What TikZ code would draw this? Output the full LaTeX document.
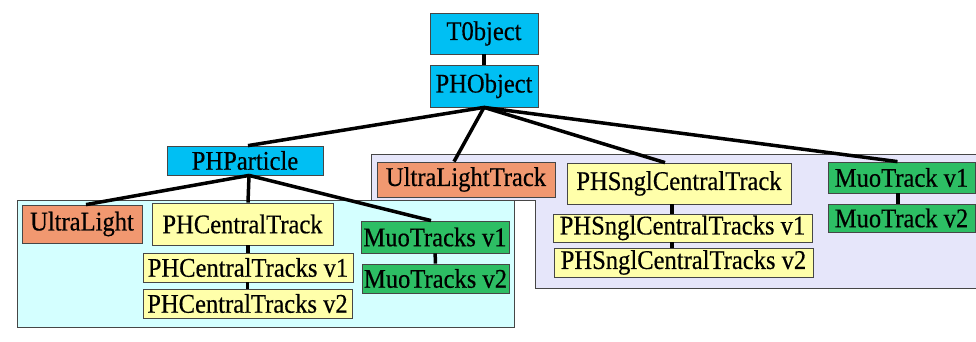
\documentclass[tikz,border=0pt]{standalone}
\usepackage{fontspec}
\setmainfont{Liberation Serif}[FakeStretch=0.91,FakeBold=0.4]
\definecolor{objcyan}{RGB}{0,191,243}
\definecolor{ultraorange}{RGB}{241,152,112}
\definecolor{centralyellow}{RGB}{255,255,170}
\definecolor{muogreen}{RGB}{45,190,100}
\definecolor{areacyan}{RGB}{212,255,255}
\definecolor{arealav}{RGB}{230,230,250}
\definecolor{edgegray}{RGB}{70,70,70}

\begin{document}
\begin{tikzpicture}[x=1pt,y=-1pt,
	cls/.style={draw=edgegray,line width=0.8pt,inner sep=0pt,font=\fontsize{27}{30}\selectfont},
	link/.style={line width=3.5pt}]
	\useasboundingbox (0,0) rectangle (976,341);
	\fill[white] (0,0) rectangle (976,341);
	\draw[edgegray,fill=arealav] (371,154) -- (980,154) -- (980,288) -- (535,288) -- (535,200) -- (371,200) -- cycle;
	\draw[edgegray,fill=areacyan] (17,200) rectangle (514,327);

	\node[cls,fill=objcyan,minimum width=108pt,minimum height=41pt] (tobject) at (484,33.5) {T0bject};
	\node[cls,fill=objcyan,minimum width=108pt,minimum height=42pt] (phobject) at (484,86) {PHObject};
	\node[cls,fill=objcyan,minimum width=156pt,minimum height=29pt] (phparticle) at (245,160.5) {PHParticle};

	\node[cls,fill=ultraorange,minimum width=120pt,minimum height=38pt] (ultralight) at (82,224) {UltraLight};
	\node[cls,fill=centralyellow,minimum width=181pt,minimum height=42pt] (centraltrack) at (242.5,224) {PHCentralTrack};
	\node[cls,fill=centralyellow,minimum width=210pt,minimum height=29pt] (centralvi) at (248,267.5) {PHCentralTracks v1};
	\node[cls,fill=centralyellow,minimum width=209pt,minimum height=29pt] (centralvii) at (247.5,303.5) {PHCentralTracks v2};
	\node[cls,fill=muogreen,minimum width=148pt,minimum height=32pt] (muotracksvi) at (435,237) {MuoTracks v1};
	\node[cls,fill=muogreen,minimum width=147pt,minimum height=29pt] (muotracksvii) at (435.5,278.5) {MuoTracks v2};

	\node[cls,fill=ultraorange,minimum width=178pt,minimum height=35pt] (ultratrack) at (466,179.5) {UltraLightTrack};
	\node[cls,fill=centralyellow,minimum width=224pt,minimum height=41pt] (sngltrack) at (679,183.5) {PHSnglCentralTrack};
	\node[cls,fill=centralyellow,minimum width=259pt,minimum height=28pt] (snglvi) at (682.5,228) {PHSnglCentralTracks v1};
	\node[cls,fill=centralyellow,minimum width=259pt,minimum height=29pt] (snglvii) at (683.5,262.5) {PHSnglCentralTracks v2};
	\node[cls,fill=muogreen,minimum width=147pt,minimum height=31pt] (muotrackvi) at (901.5,177.5) {MuoTrack v1};
	\node[cls,fill=muogreen,minimum width=147pt,minimum height=28pt] (muotrackvii) at (901.5,218) {MuoTrack v2};

	\draw[link] (tobject) -- (phobject);
	\draw[link] (phobject.south) -- ([xshift=3pt]phparticle.north);
	\draw[link] (phobject.south) -- ([xshift=-12pt]ultratrack.north);
	\draw[link] (phobject.south) -- ([xshift=-14pt]sngltrack.north);
	\draw[link] (phobject.south) -- ([xshift=-4pt]muotrackvi.north);
	\draw[link] ([xshift=4pt]phparticle.south) -- ([xshift=4pt]ultralight.north);
	\draw[link] ([xshift=4pt]phparticle.south) -- ([xshift=5.5pt]centraltrack.north);
	\draw[link] ([xshift=4pt]phparticle.south) -- ([xshift=-4pt]muotracksvi.north);
	\draw[link] (centralvi.north) -- (centralvi.north |- centraltrack.south);
	\draw[link] (centralvii.north) -- (centralvii.north |- centralvi.south);
	\draw[link] (muotracksvi) -- (muotracksvii);
	\draw[link] ([xshift=-7pt]sngltrack.south) -- ([xshift=-10.5pt]snglvi.north);
	\draw[link] ([xshift=-10.5pt]snglvi.south) -- ([xshift=-11.5pt]snglvii.north);
	\draw[link] ([xshift=-3.5pt]muotrackvi.south) -- ([xshift=-3.5pt]muotrackvii.north);
\end{tikzpicture}
\end{document}
